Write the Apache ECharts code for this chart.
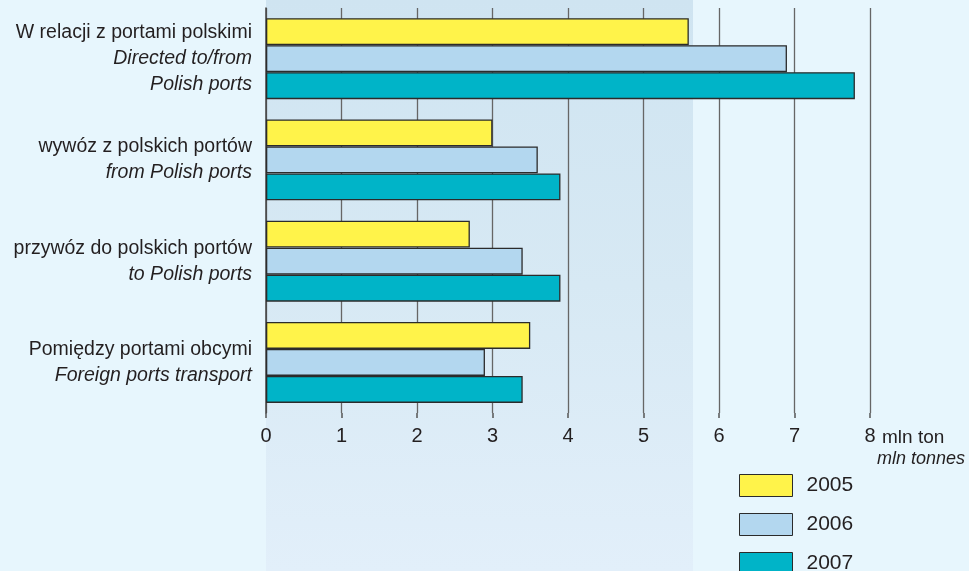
<!DOCTYPE html>
<html>
<head>
<meta charset="utf-8">
<script src="https://cdn.jsdelivr.net/npm/echarts@6/dist/echarts.min.js"></script>
<style>
  html, body { margin:0; padding:0; background:#e7f6fd; }
  #main { width:969px; height:571px; }
</style>
</head>
<body>
<div id="main"></div>
<script>
// kategorie (od góry)
var categories = [
  'W relacji z portami polskimi\n{i|Directed to/from}\n{i|Polish ports}',
  'wywóz z polskich portów\n{i|from Polish ports}',
  'przywóz do polskich portów\n{i|to Polish ports}',
  'Pomiędzy portami obcymi\n{i|Foreign ports transport}'
];
var years = ['2005', '2006', '2007'];
var v2005 = [5.6, 3.0, 2.7, 3.5];
var v2006 = [6.9, 3.6, 3.4, 2.9];
var v2007 = [7.8, 3.9, 3.9, 3.4];
var xTicks = [0, 1, 2, 3, 4, 5, 6, 7, 8];
var colors = ['#fff34a', '#b3d7ef', '#00b4c8'];

var font = '"Liberation Sans", Arial, sans-serif';

var chart = echarts.init(document.getElementById('main'));

function bar(name, data, idx) {
  return {
    name: name,
    type: 'bar',
    data: data,
    barGap: '0%',
    barCategoryGap: '20%',
    itemStyle: { color: colors[idx], borderColor: '#2b2b2b', borderWidth: 1.3 }
  };
}

var option = {
  backgroundColor: '#e7f6fd',
  animation: false,
  graphic: [
    {
      type: 'rect', z: -10, silent: true,
      shape: { x: 266, y: 0, width: 427, height: 571 },
      style: {
        fill: new echarts.graphic.LinearGradient(0, 0, 0, 1, [
          { offset: 0, color: '#cfe4f1' },
          { offset: 0.5, color: '#d7e9f4' },
          { offset: 1, color: '#e2effa' }
        ])
      }
    },
    {
      type: 'text', left: 882, top: 428,
      style: { text: 'mln ton', font: '19px ' + font, fill: '#231f20' }
    },
    {
      type: 'text', right: 4, top: 450,
      style: { text: 'mln tonnes', font: 'italic 18px ' + font, fill: '#231f20' }
    }
  ],
  grid: { left: 266, top: 8, width: 604, height: 405 },
  legend: {
    orient: 'vertical',
    left: 739, top: 474,
    height: 130,
    padding: 0,
    icon: 'rect',
    itemWidth: 53, itemHeight: 22, itemGap: 16,
    data: years,
    itemStyle: { borderColor: '#2b2b2b', borderWidth: 1 },
    textStyle: { fontFamily: font, fontSize: 21, color: '#231f20', padding: [0, 0, 0, 9] }
  },
  xAxis: {
    type: 'value',
    min: 0, max: 8, interval: 1,
    axisLine: { show: false },
    axisTick: { show: true, length: 5, lineStyle: { color: '#555', width: 1.5 } },
    splitLine: { show: true, lineStyle: { color: '#666', width: 1.3 } },
    axisLabel: {
      margin: 13,
      fontFamily: font, fontSize: 20, color: '#231f20',
      formatter: function (v) { return xTicks.indexOf(v) >= 0 ? String(v) : ''; }
    }
  },
  yAxis: {
    type: 'category',
    inverse: true,
    data: categories,
    axisLine: { show: true, lineStyle: { color: '#444', width: 1.5 } },
    axisTick: { show: false },
    axisLabel: {
      margin: 14,
      fontFamily: font, fontSize: 19.5, color: '#231f20', lineHeight: 26,
      align: 'right',
      rich: { i: { fontFamily: font, fontSize: 19.5, fontStyle: 'italic', lineHeight: 26, color: '#231f20' } }
    }
  },
  series: [bar(years[0], v2005, 0), bar(years[1], v2006, 1), bar(years[2], v2007, 2)]
};

chart.setOption(option);
</script>
</body>
</html>
